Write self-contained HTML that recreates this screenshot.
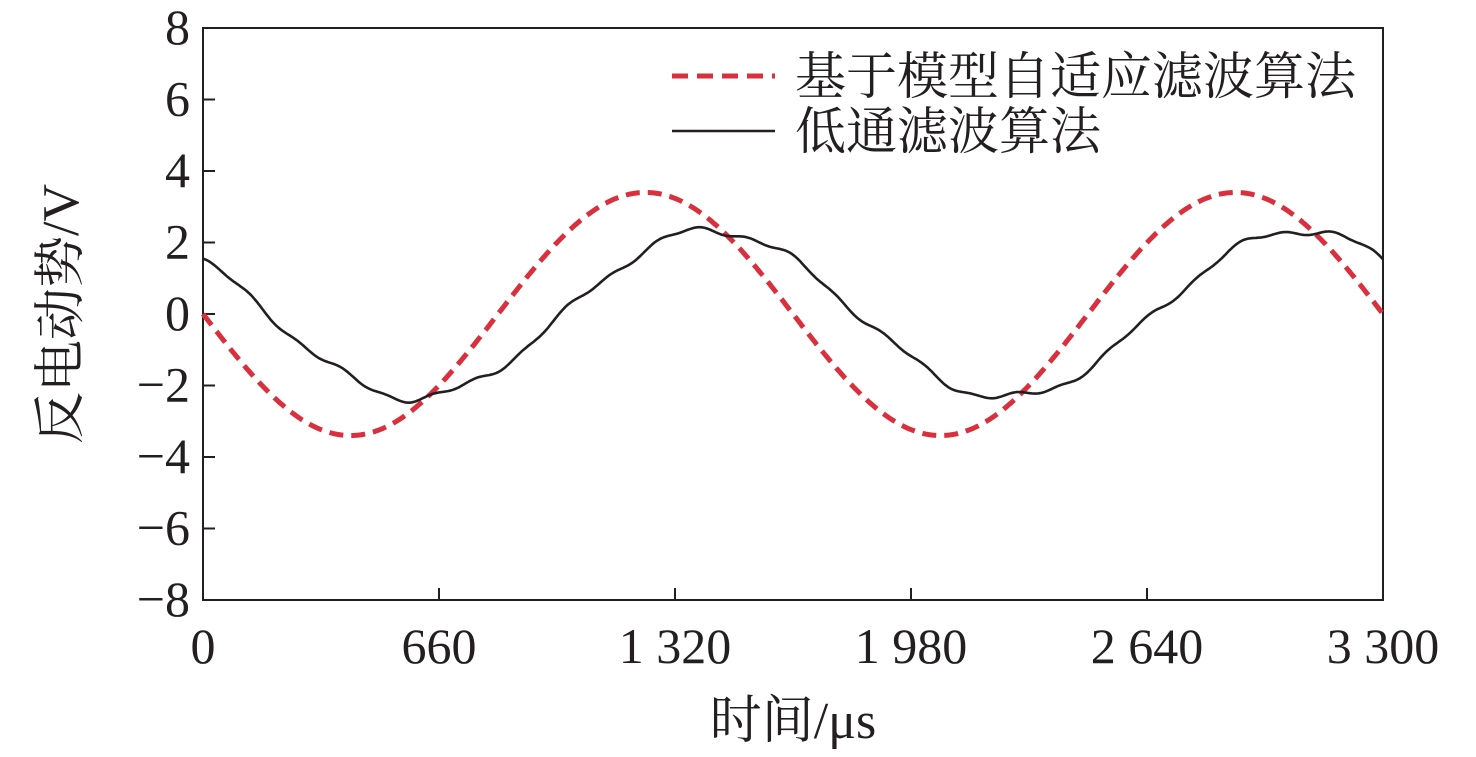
<!DOCTYPE html>
<html><head><meta charset="utf-8"><style>body{margin:0;background:#fff}svg{display:block}text{font-family:"Liberation Serif","Noto Serif CJK SC",serif;fill:#231f20}</style></head>
<body>
<svg id="s" width="1476" height="757" viewBox="0 0 1476 757">
<rect x="203" y="28" width="1180" height="572" fill="none" stroke="#231f20" stroke-width="2"/>
<g id="ticks" stroke="#231f20" stroke-width="2"></g>
<g id="lbl" font-size="50"></g>
<path id="red" fill="none" stroke="#d9303e" stroke-width="5" stroke-dasharray="14,8"/>
<path id="blk" fill="none" stroke="#231f20" stroke-width="2.6"/>
<line x1="672" y1="76" x2="775" y2="76" stroke="#d9303e" stroke-width="5" stroke-dasharray="16,9"/>
<text x="795" y="94" font-size="51">基于模型自适应滤波算法</text>
<line x1="672" y1="131" x2="775" y2="131" stroke="#231f20" stroke-width="2.6"/>
<text x="795" y="149" font-size="51">低通滤波算法</text>
<text x="793" y="738" font-size="52" text-anchor="middle">时间/μs</text>
<text transform="translate(78,314) rotate(-90)" font-size="52" text-anchor="middle">反电动势/V</text>
</svg>
<script>
var X=t=>203+t*1180/3300, Y=v=>314-v*35.75;
var tk=document.getElementById('ticks'),lb=document.getElementById('lbl'),h='',l='';
for(var v=-8;v<=8;v+=2){var y=Y(v);if(v>-8&&v<8)h+='<line x1="203" y1="'+y+'" x2="215" y2="'+y+'"/>';l+='<text x="190" y="'+(y+16)+'" text-anchor="end">'+(v<0?'−'+(-v):v)+'</text>';}
var xs=['0','660','1 320','1 980','2 640','3 300'];
for(var i=0;i<6;i++){var x=X(i*660);if(i>0&&i<5)h+='<line x1="'+x+'" y1="600" x2="'+x+'" y2="588"/>';l+='<text x="'+x+'" y="663" text-anchor="middle">'+xs[i]+'</text>';}
tk.innerHTML=h;lb.innerHTML=l;
var r='',b='';
for(var t=0;t<=3300;t+=5){var p=2*Math.PI/1650;
var rv=-3.4*Math.sin(p*t);
var bv=-2.35*Math.sin(p*(t-183))+0.1*Math.sin(t*0.02)+0.05*Math.sin(t*0.05+1);
r+=(t?'L':'M')+X(t).toFixed(1)+','+Y(rv).toFixed(1);
b+=(t?'L':'M')+X(t).toFixed(1)+','+Y(bv).toFixed(1);}
document.getElementById('red').setAttribute('d',r);
document.getElementById('blk').setAttribute('d',b);
</script>
</body></html>
